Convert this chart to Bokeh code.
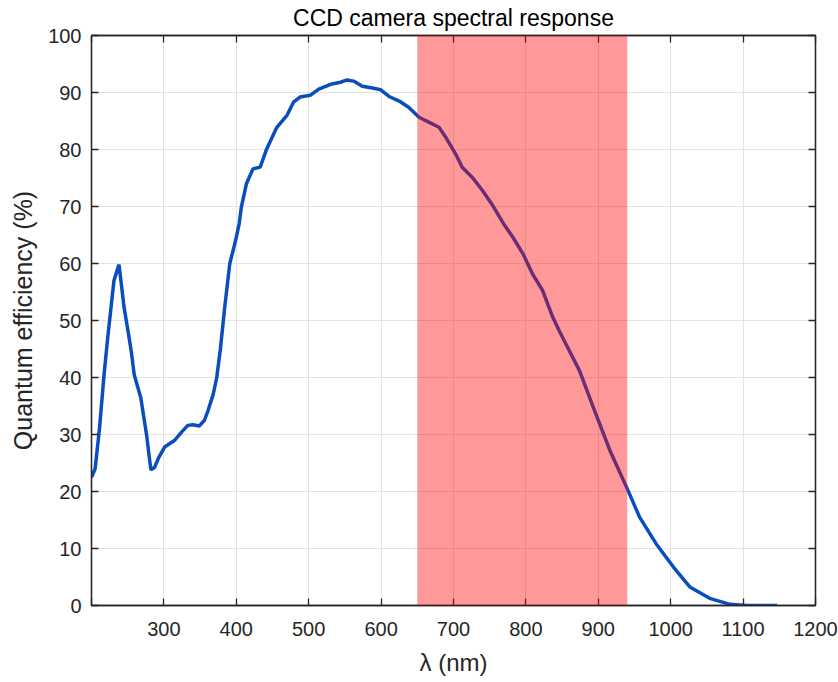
from bokeh.plotting import figure
from bokeh.models import BoxAnnotation, LinearAxis, FixedTicker, Range1d, CustomLabelingPolicy
from bokeh.embed import file_html
from bokeh.resources import INLINE

# Data
wavelength = [200, 205, 211, 217, 222, 231, 238, 245, 250, 255, 259, 268, 276, 282, 287,
              293, 301, 315, 325, 333, 340, 349, 356, 361, 368, 373, 378, 384, 391, 397,
              400, 404, 407, 414, 423, 433, 442, 456, 470, 479, 488, 502, 514, 532, 544,
              553, 562, 574, 588, 599, 611, 625, 638, 652, 661, 680, 689, 703, 712, 726,
              740, 754, 768, 782, 796, 809, 823, 837, 846, 860, 874, 893, 916, 941, 957,
              980, 1004, 1027, 1055, 1082, 1105, 1147]
efficiency = [22.5, 24.0, 31.0, 40.0, 46.5, 57.0, 59.8, 52.3, 48.5, 44.5, 40.5, 36.5, 30.0, 23.8, 24.2,
              26.0, 27.8, 29.0, 30.5, 31.6, 31.7, 31.5, 32.5, 34.2, 37.0, 40.0, 45.0, 52.3, 60.0, 63.0,
              64.6, 67.0, 69.9, 74.0, 76.6, 76.9, 80.1, 83.9, 86.0, 88.3, 89.2, 89.5, 90.6, 91.5, 91.8,
              92.2, 92.0, 91.1, 90.8, 90.5, 89.3, 88.5, 87.4, 85.7, 85.1, 83.9, 82.2, 79.2, 76.9, 75.1,
              72.8, 70.2, 67.2, 64.6, 61.7, 58.2, 55.3, 50.6, 48.2, 44.7, 41.2, 34.8, 27.2, 20.2, 15.5,
              10.8, 6.7, 3.2, 1.2, 0.2, 0.0, 0.0]
band_start, band_end = 650, 940
x_ticks = [300, 400, 500, 600, 700, 800, 900, 1000, 1100, 1200]
y_ticks = [0, 10, 20, 30, 40, 50, 60, 70, 80, 90, 100]

FONT = "Liberation Sans"
TXT = "#262626"

p = figure(width=838, height=682, output_backend="svg", toolbar_location=None,
           x_range=Range1d(200, 1200), y_range=Range1d(0, 100),
           min_border_left=91, min_border_right=23, min_border_top=35, min_border_bottom=77,
           background_fill_color="white", border_fill_color="white")

p.title.text = "CCD camera spectral response"
p.title.text_font = FONT
p.title.text_font_size = "23px"
p.title.text_font_style = "normal"
p.title.text_color = "black"
p.title.align = "center"
p.title.offset = 0
p.title.standoff = 2

p.line(wavelength, efficiency, line_color="#0A4DBE", line_width=3.5)
p.add_layout(BoxAnnotation(left=band_start, right=band_end, fill_color="#FF0000",
                           fill_alpha=0.4, line_color=None))

p.xaxis.ticker = FixedTicker(ticks=[200] + x_ticks)
p.xaxis.major_label_overrides = {200: " "}
p.yaxis.ticker = FixedTicker(ticks=y_ticks)
p.xaxis.axis_label = "λ (nm)"
p.yaxis.axis_label = "Quantum efficiency (%)"

for ax in (p.xaxis[0], p.yaxis[0]):
    ax.major_tick_in = 7
    ax.major_tick_out = 0
    ax.minor_tick_line_color = None
    ax.axis_line_color = TXT
    ax.axis_line_width = 1.3
    ax.major_tick_line_color = TXT
    ax.major_tick_line_width = 1.3
    ax.major_label_text_font = FONT
    ax.major_label_text_font_size = "20px"
    ax.major_label_text_color = TXT
    ax.axis_label_text_font = FONT
    ax.axis_label_text_font_style = "normal"
    ax.axis_label_text_color = TXT
p.xaxis.axis_label_text_font_size = "24px"
p.yaxis.axis_label_text_font_size = "25px"
p.xaxis.major_label_standoff = 12
p.xaxis.axis_label_standoff = 6
p.yaxis.major_label_standoff = 10
p.yaxis.axis_label_standoff = 8

no_labels = CustomLabelingPolicy(code="""
for (const i of Array.from(indices)) { indices.unset(i) }
return indices
""")

def frame_axis(ticks):
    return LinearAxis(ticker=FixedTicker(ticks=ticks), major_label_policy=no_labels,
                      major_label_text_font_size="1px",
                      major_label_standoff=0, major_tick_in=7, major_tick_out=0,
                      minor_tick_line_color=None, axis_line_color=TXT, major_tick_line_color=TXT,
                      major_tick_line_width=1.3, axis_line_width=1.3)

p.add_layout(frame_axis([200] + x_ticks), "above")
p.add_layout(frame_axis(y_ticks), "right")

p.grid.grid_line_color = "#e3e3e3"
p.grid.grid_line_width = 1
p.outline_line_color = TXT
p.outline_line_width = 1.3

open("out.html", "w").write(file_html(p, INLINE))
